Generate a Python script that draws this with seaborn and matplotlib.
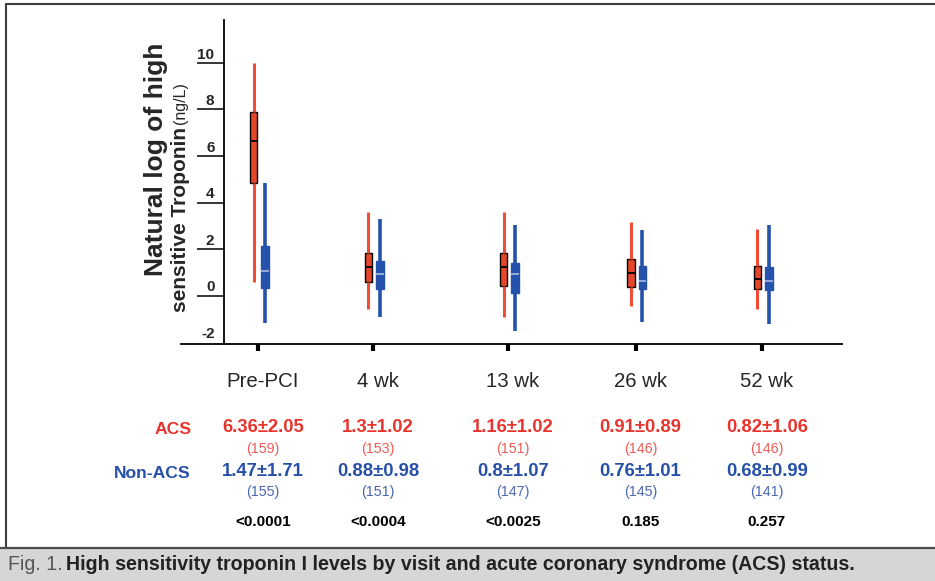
import numpy as np
import pandas as pd
import matplotlib
matplotlib.use("Agg")
import matplotlib.pyplot as plt
import seaborn as sns
from matplotlib import transforms
from matplotlib.patches import Rectangle
from matplotlib.lines import Line2D

# ---- data -------------------------------------------------------------
visits = ["Pre-PCI", "4 wk", "13 wk", "26 wk", "52 wk"]

# box summaries: whisker low, Q1, median, Q3, whisker high (ln ng/L)
acs_lo = [0.60, -0.58, -0.90, -0.43, -0.58]
acs_q1 = [4.83, 0.60, 0.43, 0.39, 0.30]
acs_med = [6.65, 1.22, 1.23, 0.96, 0.71]
acs_q3 = [7.90, 1.82, 1.85, 1.56, 1.28]
acs_hi = [9.98, 3.61, 3.61, 3.15, 2.85]

non_lo = [-1.18, -0.90, -1.50, -1.12, -1.21]
non_q1 = [0.34, 0.30, 0.10, 0.28, 0.25]
non_med = [1.06, 0.92, 0.92, 0.65, 0.65]
non_q3 = [2.14, 1.50, 1.42, 1.29, 1.22]
non_hi = [4.85, 3.30, 3.04, 2.82, 3.04]

acs_mean_sd = ["6.36±2.05", "1.3±1.02", "1.16±1.02", "0.91±0.89", "0.82±1.06"]
acs_n = [159, 153, 151, 146, 146]
non_mean_sd = ["1.47±1.71", "0.88±0.98", "0.8±1.07", "0.76±1.01", "0.68±0.99"]
non_n = [155, 151, 147, 145, 141]
p_values = ["<0.0001", "<0.0004", "<0.0025", "0.185", "0.257"]

ytick_labels = [-2, 0, 2, 4, 6, 8, 10]

# ---- layout / style ---------------------------------------------------
visit_x = [0.0, 0.91, 1.98, 2.99, 3.99]
ACS_SHIFT, NON_SHIFT = -0.035, 0.055
RED_FILL, RED_LINE, RED_TXT, RED_N = "#e6472b", "#f24d34", "#e8342d", "#ef5d57"
BLUE, BLUE_MED, BLUE_TXT, BLUE_N = "#2452ad", "#9fb3de", "#2650a8", "#4b66b2"

sns.set_style("white")
plt.rcParams["font.family"] = ["Liberation Sans", "DejaVu Sans"]


def long_frame(lo, q1, med, q3, hi, shift):
    rows = []
    for i, vx in enumerate(visit_x):
        for v in (lo[i], q1[i], med[i], q3[i], hi[i]):
            rows.append({"x": vx + shift, "value": v})
    return pd.DataFrame(rows)


df_acs = long_frame(acs_lo, acs_q1, acs_med, acs_q3, acs_hi, ACS_SHIFT)
df_non = long_frame(non_lo, non_q1, non_med, non_q3, non_hi, NON_SHIFT)

W, H = 935, 581
fig = plt.figure(figsize=(W / 100, H / 100), dpi=100)
fig.patch.set_facecolor("white")

ax_left, ax_right, ax_top, ax_bot = 180.7, 841.7, 20, 344.3
ax = fig.add_axes([ax_left / W, 1 - ax_bot / H,
                   (ax_right - ax_left) / W, (ax_bot - ax_top) / H])
ax.set_facecolor("none")

box_w = 0.060 / 0.91
sns.boxplot(data=df_acs, x="x", y="value", native_scale=True, width=box_w,
            whis=(0, 100), showcaps=False, showfliers=False, saturation=1,
            color=RED_FILL, linecolor="black", linewidth=1.0,
            whiskerprops={"color": RED_LINE, "linewidth": 2.2},
            medianprops={"color": "black", "linewidth": 1.3}, ax=ax)
sns.boxplot(data=df_non, x="x", y="value", native_scale=True, width=box_w,
            whis=(0, 100), showcaps=False, showfliers=False, saturation=1,
            color=BLUE, linecolor=BLUE, linewidth=1.0,
            whiskerprops={"color": BLUE, "linewidth": 2.6},
            medianprops={"color": BLUE_MED, "linewidth": 1.3}, ax=ax)

ax.set_xlim(-0.612, 4.623)
ax.set_ylim(-2.09, 11.84)
ax.set_xlabel("")
ax.set_ylabel("")
for s in ("top", "right"):
    ax.spines[s].set_visible(False)
ax.spines["left"].set_position(("axes", (224 - ax_left) / (ax_right - ax_left)))
for s in ("left", "bottom"):
    ax.spines[s].set_color("black")
    ax.spines[s].set_linewidth(1.3)

ax.set_xticks(visit_x)
ax.set_xticklabels([])
ax.tick_params(axis="x", bottom=True, length=5, width=3, direction="out",
               color="black")
# the x axis line itself serves as the -2 mark
ax.set_yticks([v for v in ytick_labels if v > -2])
ax.set_yticklabels([])
ax.tick_params(axis="y", left=True, length=19.5, width=1.1, direction="out",
               color="black")

# y tick labels sit above their tick marks
lab_x = (214.5 - ax_left) / (ax_right - ax_left)
for v in ytick_labels:
    ax.annotate(f"{v}", xy=(lab_x, v), xycoords=ax.get_yaxis_transform(),
                xytext=(0, 3), textcoords="offset points", ha="right",
                va="baseline", fontsize=11, fontweight="bold")

# y axis title
fig.text(163 / W, 1 - 159 / H, "Natural log of high", rotation=90,
         rotation_mode="anchor", ha="center", va="baseline",
         fontsize=19, fontweight="bold")
fig.text(186 / W, 1 - 312 / H, "sensitive Troponin", rotation=90,
         rotation_mode="anchor", ha="left", va="baseline",
         fontsize=15, fontweight="bold")
fig.text(185 / W, 1 - 124 / H, "(ng/L)", rotation=90,
         rotation_mode="anchor", ha="left", va="baseline", fontsize=11.5)

# visit labels and summary table
bt = transforms.blended_transform_factory(ax.transData, fig.transFigure)
col_shift = 0.04
for i, vx in enumerate(visit_x):
    cx = vx + col_shift
    ax.text(cx, 1 - 381.7 / H, visits[i], transform=bt, ha="center",
            va="center", fontsize=14.7, clip_on=False)
    ax.text(cx, 1 - 427.5 / H, acs_mean_sd[i], transform=bt, ha="center",
            va="center", fontsize=13.3, fontweight="bold", color=RED_TXT,
            clip_on=False)
    ax.text(cx, 1 - 449 / H, f"({acs_n[i]})", transform=bt, ha="center",
            va="center", fontsize=10.3, color=RED_N, clip_on=False)
    ax.text(cx, 1 - 471 / H, non_mean_sd[i], transform=bt, ha="center",
            va="center", fontsize=13.3, fontweight="bold", color=BLUE_TXT,
            clip_on=False)
    ax.text(cx, 1 - 492 / H, f"({non_n[i]})", transform=bt, ha="center",
            va="center", fontsize=10.3, color=BLUE_N, clip_on=False)
    ax.text(cx, 1 - 521.5 / H, p_values[i], transform=bt, ha="center",
            va="center", fontsize=11, fontweight="bold", color="black",
            clip_on=False)

fig.text(191.5 / W, 1 - 429 / H, "ACS", ha="right", va="center",
         fontsize=12.6, fontweight="bold", color=RED_TXT)
fig.text(191 / W, 1 - 473 / H, "Non-ACS", ha="right", va="center",
         fontsize=12.6, fontweight="bold", color=BLUE_TXT)

# outer frame and caption bar
fig.add_artist(Line2D([6 / W, 1], [1 - 4 / H] * 2, transform=fig.transFigure,
                      color="#3c3c3c", lw=1.5))
fig.add_artist(Line2D([6 / W] * 2, [1 - 4 / H, 1 - 548 / H],
                      transform=fig.transFigure, color="#3c3c3c", lw=1.5))
fig.add_artist(Rectangle((0, 0), 1, 33 / H, transform=fig.transFigure,
                         facecolor="#d6d6d6", edgecolor="none", zorder=0))
fig.add_artist(Line2D([0, 1], [1 - 548 / H] * 2, transform=fig.transFigure,
                      color="#4a4a4a", lw=1.6))

cap_y = 1 - 565 / H
t1 = fig.text(8 / W, cap_y, "Fig. 1.", fontsize=14.1, color="#555555",
              va="center")
fig.canvas.draw()
bb = t1.get_window_extent()
fig.text((bb.x1 + 3) / W, cap_y,
         "High sensitivity troponin I levels by visit and acute coronary "
         "syndrome (ACS) status.", fontsize=14.1, color="#222222",
         fontweight="bold", va="center")

fig.savefig("out.png", dpi=100)
